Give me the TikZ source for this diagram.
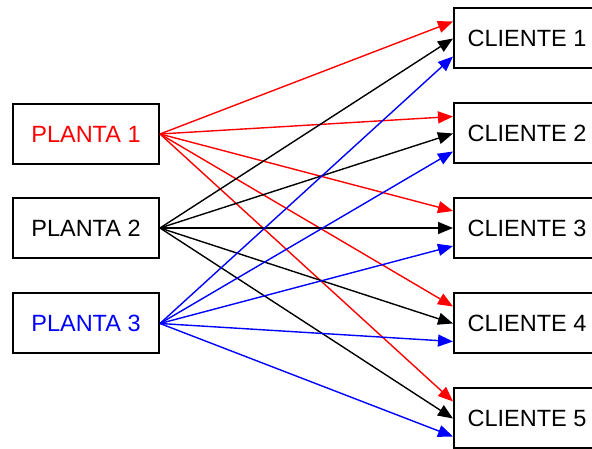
\documentclass[tikz,border=0pt]{standalone}
\usepackage{fontspec}
\setmainfont{Liberation Sans}
\usetikzlibrary{arrows.meta}
\definecolor{pred}{RGB}{255,0,0}
\definecolor{pblue}{RGB}{0,0,255}
\begin{document}
\begin{tikzpicture}[x=1pt,y=1pt,
  box/.style={draw=black,line width=2pt,rectangle,minimum width=146pt,minimum height=60pt,inner sep=0pt,font=\fontsize{23.5}{26}\selectfont,fill=white},
  conn/.style={line width=1.4pt,-{Triangle[length=15pt,width=12pt]}}]
\useasboundingbox (0,0) rectangle (592,449);
\clip (0,0) rectangle (592,449);
\node[box,text=pred] (p1) at (86,315) {PLANTA 1};
\node[box] (p2) at (86,221) {PLANTA 2};
\node[box,text=pblue] (p3) at (86,125.5) {PLANTA 3};
\node[box] (c1) at (527,410.5) {CLIENTE 1};
\node[box] (c2) at (527,315.5) {CLIENTE 2};
\node[box] (c3) at (527,221) {CLIENTE 3};
\node[box] (c4) at (527,125.5) {CLIENTE 4};
\node[box] (c5) at (527,30.5) {CLIENTE 5};
\foreach \c in {c1,c2,c3,c4,c5} {
  \draw[conn,pred] (p1.east) -- ([yshift=17pt]\c.west);
}
\foreach \c in {c1,c2,c3,c4,c5} {
  \draw[conn,black] (p2.east) -- (\c.west);
}
\foreach \c in {c1,c2,c3,c4,c5} {
  \draw[conn,pblue] (p3.east) -- ([yshift=-18pt]\c.west);
}
\end{tikzpicture}
\end{document}
